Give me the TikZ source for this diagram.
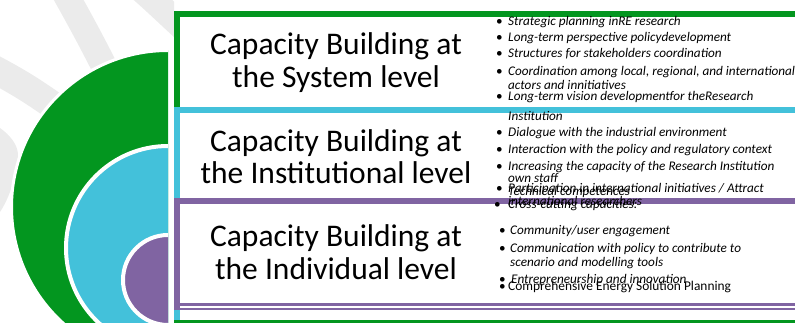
\documentclass[tikz,border=0pt]{standalone}
\usepackage{fontspec}
\setmainfont{Carlito}
\definecolor{cbgreen}{RGB}{3,150,31}
\definecolor{cbcyan}{RGB}{67,193,218}
\definecolor{cbpurple}{RGB}{128,100,162}
\definecolor{cbgrey}{RGB}{235,235,235}
\begin{document}
\begin{tikzpicture}[x=1pt,y=-1pt,
  title/.style={font=\fontsize{31.5}{33}\selectfont, anchor=base, inner sep=0pt},
  item/.style={font=\fontsize{13.2}{16}\selectfont\itshape, anchor=base west, inner sep=0pt},
  uitem/.style={font=\fontsize{13.4}{16}\selectfont, anchor=base west, inner sep=0pt},
  bul/.style={font=\fontsize{13.2}{16}\selectfont, anchor=base west, inner sep=0pt},
  band/.style={cbgrey, line width=26pt},
  framegreen/.style={cbgreen, line width=6pt},
  framecyan/.style={cbcyan, line width=5.5pt},
  framepurple/.style={cbpurple, line width=6pt}]
\useasboundingbox (0,0) rectangle (795,323);
\clip (0,0) rectangle (795,323);
% watermark bands
\begin{scope}
  \clip (0,0) rectangle (174,323);
  \draw[band] (62,-12) .. controls (80,20) and (92,42) .. (110,78);
  \draw[band, line width=28pt] (-12,66) .. controls (15,80) and (35,92) .. (62,112);
  \draw[band] (142,-10) .. controls (158,4) and (170,16) .. (190,34);
  \fill[cbgrey] (0,128) .. controls (10,135) and (18,145) .. (18,155)
     .. controls (16,180) and (8,200) .. (0,212) -- cycle;
\end{scope}
% disks
\begin{scope}
  \clip (0,0) rectangle (168,323);
  \filldraw[fill=cbgreen, draw=white, line width=3pt] (168,207) circle (156.5);
  \filldraw[fill=cbcyan, draw=white, line width=4pt] (168,248) circle (102);
  \filldraw[fill=cbpurple, draw=white, line width=4pt] (168,280) circle (45);
\end{scope}
% frames
\draw[framegreen] (177,112) -- (177,14) -- (800,14);
\draw[framecyan] (177,321) -- (177,110) -- (800,110);
\draw[framepurple] (177,310) -- (177,201) -- (800,201);
\draw[cbpurple, line width=2.5pt] (180,304.5) -- (800,304.5);
\draw[cbpurple, line width=2pt] (180,309) -- (800,309);
\draw[cbgreen, line width=4pt] (174,322) -- (800,322);
% titles
\node[title] (s1) at (336,55) {Capacity Building at};
\node[title] (s2) at (336,88) {the System level};
\node[title] (n1) at (336,152) {Capacity Building at};
\node[title] (n2) at (336,184) {the Institutional level};
\node[title] (d1) at (336,247) {Capacity Building at};
\node[title] (d2) at (336,279) {the Individual level};
% system bullets
\node[bul] (b1) at (496,26) {•};
\node[item] (t1) at (508,26) {Strategic planning inRE research};
\node[bul] (b2) at (496,41.5) {•};
\node[item] (t2) at (508,41.5) {Long-term perspective policydevelopment};
\node[bul] (b3) at (496,58) {•};
\node[item] (t3) at (508,58) {Structures for stakeholders coordination};
\node[bul] (b4) at (496,75.5) {•};
\node[item] (t4) at (508,75.5) {Coordination among local, regional, and international};
\node[item] (t4b) at (508,90) {actors and innitiatives};
\node[bul] (b5) at (496,101) {•};
\node[item] (t5) at (508,101) {Long-term vision developmentfor theResearch};
\node[item] (t5b) at (508,120.5) {Institution};
% institutional bullets
\node[bul] (b6) at (496,136.5) {•};
\node[item] (t6) at (508,136.5) {Dialogue with the industrial environment};
\node[bul] (b7) at (496,154) {•};
\node[item] (t7) at (508,154) {Interaction with the policy and regulatory context};
\node[bul] (b8) at (496,171) {•};
\node[item] (t8) at (508,171) {Increasing the capacity of the Research Institution};
\node[item] (t8b) at (508,183) {own staff};
\node[bul] (b9) at (496,193) {•};
\node[item] (t9) at (508,193) {Participation in international initiatives / Attract};
\node[item] (t9c) at (508,195.5) {Technical competences};
\node[item] (t9b) at (508,206) {international researchers};
% individual bullets
\node[bul] (b10) at (494,209) {•};
\node[item] (t10) at (508,209) {Cross-cutting capacities:};
\node[bul] (b11) at (499,235) {•};
\node[item] (t11) at (510,235) {Community/user engagement};
\node[bul] (b12) at (499,252) {•};
\node[item] (t12) at (510,252) {Communication with policy to contribute to};
\node[item] (t12b) at (510,266) {scenario and modelling tools};
\node[bul] (b13) at (499,283) {•};
\node[item] (t13) at (511,283) {Entrepreneurship and innovation};
\node[bul] (b14) at (499,290) {•};
\node[uitem] (t14) at (508,290) {Comprehensive Energy Solution Planning};
\end{tikzpicture}
\end{document}
